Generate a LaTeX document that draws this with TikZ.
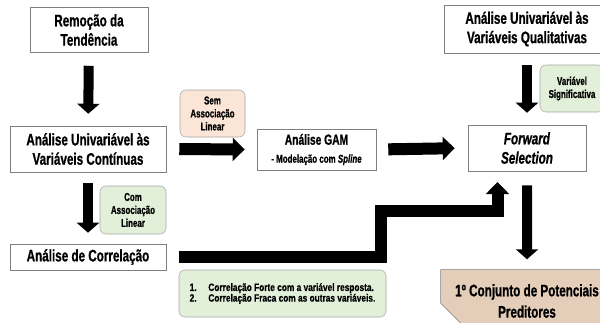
\documentclass[tikz,border=0pt]{standalone}
\usepackage{fontspec}
\newfontfamily\narrowsans{Liberation Sans}[FakeStretch=0.7, FakeBold=0.8]
\newfontfamily\listsans{Liberation Sans}[FakeStretch=0.78, FakeBold=0.6]
\usetikzlibrary{arrows.meta,shapes.misc}
\definecolor{framegray}{HTML}{7F7F7F}
\definecolor{tagpeach}{HTML}{FBE5D6}
\definecolor{taggreen}{HTML}{E2F0D9}
\definecolor{tagtan}{HTML}{E4CDB9}
\tikzset{
  stepbox/.style={draw=framegray, fill=white, align=center, inner sep=0pt,
    font=\narrowsans\bfseries\fontsize{12.5}{14.5}\selectfont},
  tagbox/.style={draw=framegray!70, rounded corners=4.5pt, align=center, inner sep=0pt,
    font=\narrowsans\bfseries\fontsize{8.5}{9.75}\selectfont},
  flow/.style={line width=7.5pt, -{Triangle[width=16.5pt,length=7.5pt]}},
  flowwide/.style={line width=9pt, line join=miter, -{Triangle[width=17pt,length=9pt]}},
}
\begin{document}
\begin{tikzpicture}[x=0.75pt,y=-0.75pt]
  \clip (0,0) rectangle (600,322);
  % left column
  \node[stepbox, minimum width=88.5pt, minimum height=33.75pt] (trend) at (89,30) {Remoção da\\Tendência};
  \node[stepbox, minimum width=117pt, minimum height=34.5pt] (cont) at (88,149) {Análise Univariável às\\Variáveis Contínuas};
  \node[stepbox, minimum width=117pt, minimum height=19.5pt] (corr) at (88,257) {Análise de Correlação};
  % middle
  \node[stepbox, minimum width=89.25pt, minimum height=30.75pt] (gam) at (316.5,149.5)
    {{\fontsize{11}{12}\selectfont Análise GAM}\\[-1pt]{\fontsize{8.5}{9}\selectfont - Modelação com \textit{Spline}}};
  % right column
  \node[stepbox, minimum width=124.5pt, minimum height=36pt] (qual) at (527,29) {Análise Univariável às\\Variáveis Qualitativas};
  \node[stepbox, minimum width=88.5pt, minimum height=34.5pt] (fwd) at (527,148) {\textit{Forward}\\\textit{Selection}};
  \node[stepbox, fill=tagtan, chamfered rectangle, chamfered rectangle corners=south west,
    chamfered rectangle xsep=11pt, chamfered rectangle ysep=11pt,
    minimum width=124.5pt, minimum height=43.5pt] (pred) at (527,301) {1º Conjunto de Potenciais\\[1.5pt]Preditores};
  % tags
  \node[tagbox, fill=tagpeach, minimum width=48.75pt, minimum height=35.25pt] (nolin) at (212.5,113.5) {Sem\\Associação\\Linear};
  \node[tagbox, fill=taggreen, minimum width=49.5pt, minimum height=36pt] (lin) at (133,210) {Com\\Associação\\Linear};
  \node[tagbox, fill=taggreen, minimum width=48pt, minimum height=35.25pt] (signif) at (572,88.5) {Variável\\Significativa};
  \node[tagbox, fill=taggreen, minimum width=155.25pt, minimum height=35.25pt, align=left,
    font=\listsans\bfseries\fontsize{8}{8}\selectfont] (crit) at (282.5,293.5)
    {\makebox[14pt][l]{1.}Correlação Forte com a variável resposta.\\
     \makebox[14pt][l]{2.}Correlação Fraca com as outras variáveis.};
  % arrows
  \draw[flow, shorten <=9.75pt, shorten >=9pt] (trend) -- (cont);
  \draw[flow, shorten <=8.25pt, shorten >=8.25pt] (cont) -- (corr);
  \draw[flowwide, shorten <=9.75pt, shorten >=9pt] (cont.east) -- (gam.west);
  \draw[flowwide, shorten <=9pt, shorten >=9.75pt] (gam.east) -- (fwd.west);
  \draw[flow, shorten <=9pt, shorten >=9pt] (qual) -- (fwd);
  \draw[flow, shorten <=10.5pt, shorten >=7.5pt] (fwd) -- (pred);
  \coordinate (stair) at (380.5,211);
  \coordinate (fwdin) at (497.5,182);
  \draw[flowwide] ([xshift=9.75pt]corr.east) -| (stair) -| (fwdin);
\end{tikzpicture}
\end{document}
